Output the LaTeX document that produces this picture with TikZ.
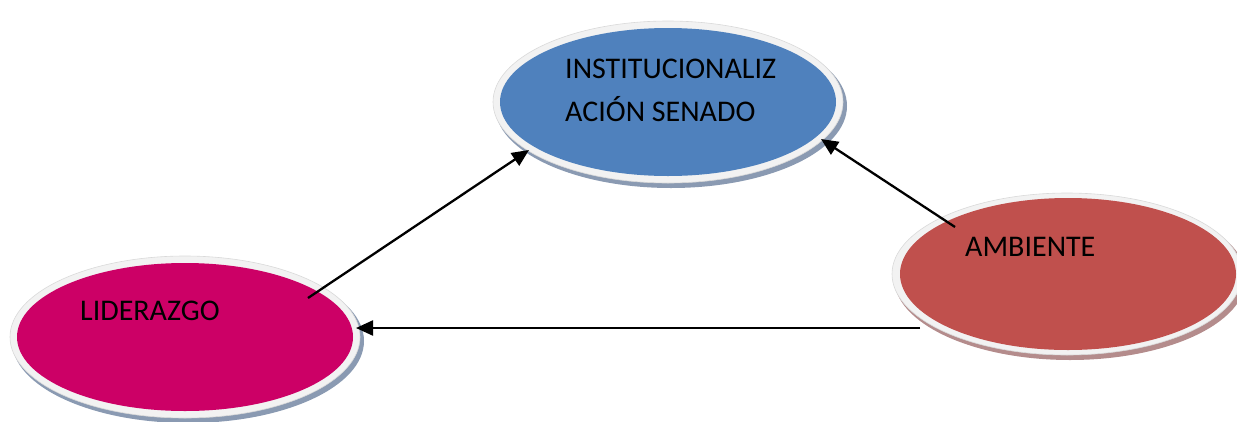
\documentclass[tikz,border=0pt]{standalone}
\usepackage{fontspec}
\setmainfont{Carlito}
\usetikzlibrary{arrows.meta,shapes.geometric}
\definecolor{cblue}{HTML}{4F81BD}
\definecolor{cred}{HTML}{C0504D}
\definecolor{cmag}{HTML}{CC0066}
\definecolor{crim}{HTML}{F2F2F2}
\definecolor{crimedge}{HTML}{D9D9D9}
\definecolor{shblue}{HTML}{8A9AB2}
\definecolor{shred}{HTML}{B48C8C}
\tikzset{
  shadowell/.style={ellipse,minimum width=352pt,minimum height=164pt,inner sep=0pt},
  rimell/.style={ellipse,fill=crim,draw=crimedge,line width=0.6pt,minimum width=350pt,minimum height=162pt,inner sep=0pt},
  coreell/.style={ellipse,minimum width=336pt,minimum height=148pt,inner sep=0pt},
  lbl/.style={anchor=base west,inner sep=0pt,font=\fontsize{30}{43}\selectfont,text=black},
  conn/.style={line width=2.3pt,-{Triangle[length=17pt,width=15pt]}}
}
\begin{document}
\begin{tikzpicture}[x=1pt,y=-1pt]
\useasboundingbox (0,0) rectangle (1237,421);
% top ellipse
\node[shadowell,fill=shblue] (insts) at (671,106) {};
\node[rimell] (instr) at (668,102) {};
\node[coreell,fill=cblue] (inst) at (668,102) {};
% right ellipse
\node[shadowell,fill=shred] (ambs) at (1070,278) {};
\node[rimell] (ambr) at (1067,274) {};
\node[coreell,fill=cred,minimum height=152pt] (amb) at (1068,274) {};
% left ellipse
\node[shadowell,fill=shblue] (lids) at (188,341) {};
\node[rimell] (lidr) at (185,337) {};
\node[coreell,fill=cmag] (lid) at (185,337) {};
% labels
\node[lbl] (t1) at (565,78) {INSTITUCIONALIZ};
\node[lbl] (t2) at (565,121) {ACIÓN SENADO};
\node[lbl] (t3) at (965,256) {AMBIENTE};
\node[lbl] (t4) at (80,320) {LIDERAZGO};
% connectors
\coordinate (s1) at (308,298);
\coordinate (e1) at (529,150);
\coordinate (s2) at (955,227);
\coordinate (e2) at (821,139);
\coordinate (s3) at (920,328);
\coordinate (e3) at (356,328);
\draw[conn] (s1) -- (e1);
\draw[conn] (s2) -- (e2);
\draw[conn] (s3) -- (e3);
\end{tikzpicture}
\end{document}
